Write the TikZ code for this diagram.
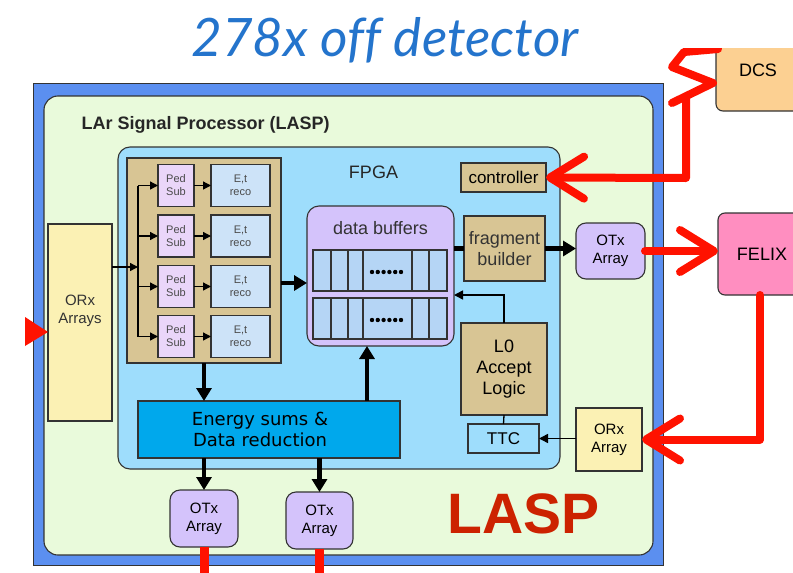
\documentclass[tikz,border=0pt]{standalone}
\usepackage{fontspec}
\setmainfont{Liberation Sans}
\newfontfamily\energyfont{DejaVu Sans}
\newfontfamily\headfont[Ligatures=NoCommon]{Lato}
\usetikzlibrary{arrows.meta}

\definecolor{frameblue}{HTML}{5B8FF0}
\definecolor{boardgreen}{HTML}{E9FADB}
\definecolor{fpgablue}{HTML}{9EDDFC}
\definecolor{tanfill}{HTML}{D8C594}
\definecolor{pedlilac}{HTML}{EAD6F9}
\definecolor{recoblue}{HTML}{CDE3F8}
\definecolor{lilac}{HTML}{D4C3FB}
\definecolor{cellblue}{HTML}{B5D5F5}
\definecolor{rxyellow}{HTML}{FBF1B4}
\definecolor{sumblue}{HTML}{00A8EC}
\definecolor{felixpink}{HTML}{FF8EC0}
\definecolor{dcsorange}{HTML}{FCD092}
\definecolor{linkred}{HTML}{FF1200}
\definecolor{laspred}{HTML}{CC2200}
\definecolor{titleblue}{HTML}{2474CC}
\definecolor{edge}{HTML}{333333}
\definecolor{smalltext}{HTML}{4A4A4A}

\begin{document}
\begin{tikzpicture}[x=1pt,y=-1pt,
  box/.style={draw=edge,line width=1.1pt,inner sep=0pt,outer sep=0pt,align=center},
  tanbox/.style={box,fill=tanfill},
  softbox/.style={rounded corners=10pt},
  f11/.style={font=\fontsize{11}{13}\selectfont},
  f15/.style={font=\fontsize{15}{18}\selectfont},
  f17/.style={font=\fontsize{17}{20}\selectfont},
  f18/.style={font=\fontsize{18}{21}\selectfont},
  redlink/.style={draw=linkred,line width=8pt,line cap=round,line join=round},
  chevron/.style={-{Straight Barb[length=34pt,width=42pt,round]}},
  bigarrow/.style={draw=black,line width=4.5pt,-{Triangle[length=13pt,width=15pt]}},
  smallarrow/.style={draw=black,line width=1.5pt,-{Triangle[length=9pt,width=9pt]}},
]
\useasboundingbox (0,0) rectangle (793,573);

% heading
\node[font=\headfont\itshape\fontsize{53}{56}\selectfont,text=titleblue,anchor=base]
  (heading) at (385,56) {278x off detector};

% board outline
\node[box,fill=frameblue,line width=1pt,minimum width=630pt,minimum height=482pt] (frame) at (348,324) {};
\node[box,softbox,rounded corners=14pt,fill=boardgreen,minimum width=609pt,minimum height=459pt] (board) at (348.5,325.5) {};
\node[font=\bfseries\fontsize{18}{21}\selectfont,anchor=base west,text=black!85] (boardname) at (78,129) {LAr Signal Processor (LASP)};

% FPGA
\node[box,rounded corners=12pt,fill=fpgablue,minimum width=442pt,minimum height=322pt] (fpga) at (339,308) {};
\node[f18,anchor=base,text=black!85] (fpganame) at (373.5,178) {FPGA};

% input optics
\node[box,fill=rxyellow,f15,text=edge,minimum width=64pt,minimum height=197pt] (orxL) at (80,322.5) {ORx\\Arrays\\[8pt]};

% channel processing
\node[tanbox,minimum width=154pt,minimum height=205pt] (chan) at (204,260.5) {};
\foreach \i/\yy in {1/185.5,2/236,3/286.5,4/336.5}{
  \node[box,fill=pedlilac,f11,text=smalltext,minimum width=36pt,minimum height=42pt] (ped\i) at (176,\yy) {Ped\\Sub};
  \node[box,fill=recoblue,f11,text=smalltext,minimum width=59pt,minimum height=42pt] (reco\i) at (240.5,\yy) {E,t\\reco};
  \draw[smallarrow,line width=1.3pt,-{Triangle[length=8pt,width=8pt]}] (ped\i) -- (reco\i);
}
\coordinate (fan) at (138,0);
\coordinate (inY) at (0,267);
\draw[line width=1.4pt] (fan |- ped1) -- (fan |- ped4);
\foreach \i in {1,...,4}
  \draw[smallarrow,line width=1.3pt,-{Triangle[length=8pt,width=8pt]}] (fan |- ped\i) -- (ped\i.west);
\draw[smallarrow,line width=1.3pt,-{Triangle[length=8pt,width=8pt]}] (orxL.east |- inY) -- (fan |- inY);

% data buffers
\node[box,rounded corners=12pt,fill=lilac,minimum width=147pt,minimum height=140pt] (dbuf) at (380.5,276) {};
\node[f18,text=edge] (dbuflabel) at (380.5,228) {data buffers};
\node[box,fill=cellblue,minimum width=134pt,minimum height=41pt] (row1) at (380,270.5) {};
\node[box,fill=cellblue,minimum width=134pt,minimum height=41pt] (row2) at (380,318.5) {};
\foreach \xx in {331,348,363,412,429}{
  \draw[draw=edge,line width=1.1pt] (\xx,0 |- row1.north) -- (\xx,0 |- row1.south);
  \draw[draw=edge,line width=1.1pt] (\xx,0 |- row2.north) -- (\xx,0 |- row2.south);
}
\foreach \k in {0,...,5}{
  \fill (372+5.8*\k,272) circle (2.2pt);
  \fill (372+5.8*\k,320) circle (2.2pt);
}

% right column of the FPGA
\node[tanbox,f17,minimum width=85pt,minimum height=29pt] (ctrl) at (503.5,177.5) {controller};
\node[tanbox,f18,text=black!80,minimum width=81pt,minimum height=65pt] (frag) at (504.5,248.5) {fragment\\builder};
\node[tanbox,f18,minimum width=86pt,minimum height=92pt] (lzero) at (504,369) {L0\\Accept\\Logic};
\node[box,fill=fpgablue,f17,minimum width=71pt,minimum height=29pt] (ttc) at (503.5,438.5) {TTC};

% energy sums
\node[box,fill=sumblue,minimum width=262pt,minimum height=57pt] (energy) at (269,429.5) {};
\node[font=\energyfont\fontsize{18}{21}\selectfont,align=center] (energytext) at ([xshift=-9pt]energy.center) {Energy sums \&\\Data reduction};

% optical transceivers on the board
\node[box,softbox,fill=lilac,f15,minimum width=69pt,minimum height=56pt] (otxR) at (610.5,251) {OTx\\Array};
\node[box,fill=rxyellow,f15,minimum width=66pt,minimum height=63pt] (orxR) at (609,439.5) {ORx\\Array};
\node[box,softbox,fill=lilac,f15,minimum width=68pt,minimum height=57pt] (otxB1) at (204,518.5) {OTx\\Array};
\node[box,softbox,fill=lilac,f15,minimum width=67pt,minimum height=57pt] (otxB2) at (319.5,520.5) {OTx\\Array};

% off-board systems
\node[box,rounded corners=7pt,fill=felixpink,f18,minimum width=88pt,minimum height=82pt] (felix) at (762,254) {FELIX};
\begin{scope}
  \clip (640,48) rectangle (793,200);
  \node[box,rounded corners=7pt,fill=dcsorange,f18,minimum width=84pt,minimum height=81pt] (dcs) at (758,70.5) {DCS};
  \coordinate (dcsIn) at (713,83);
  \draw[redlink] (672,103) -- (dcsIn) -- (672,67) -- (684,52) -- (718,49);
\end{scope}

% data flow inside the FPGA
\coordinate (flowY) at (0,283);
\coordinate (upX) at (367,0);
\coordinate (retY) at (0,295);
\draw[bigarrow] (chan.east |- flowY) -- (dbuf.west |- flowY);
\draw[bigarrow] (chan.south) -- (energy.north -| chan.south);
\draw[bigarrow] (energy.north -| upX) -- (dbuf.south -| upX);
\draw[bigarrow] (energy.south -| otxB1.north) -- (otxB1.north);
\draw[bigarrow] (energy.south -| otxB2.north) -- (otxB2.north);
\draw[black,line width=4.5pt] (dbuf.east |- frag.west) -- (frag.west);
\draw[bigarrow] (frag.east) -- (otxR.west |- frag.east);
\draw[smallarrow] (lzero.north) -- (lzero.north |- retY) -- (dbuf.east |- retY);
\draw[black,line width=1.3pt] (lzero.south) -- (ttc.north);
\draw[smallarrow] (orxR.west |- ttc.east) -- (ttc.east);

% optical links
\coordinate (dcsRise) at (686,97);
\coordinate (dcsKnee) at (686,178);
\coordinate (felixDrop) at (760,0);
\draw[redlink,chevron] (dcsRise) -- (dcsKnee) -- (ctrl.east);
\draw[redlink,chevron] (otxR.east) -- (felix.west |- otxR.east);
\draw[redlink,chevron] (felixDrop |- felix.south) -- (felixDrop |- orxR.east) -- (orxR.east);
\draw[redlink,line cap=butt,line width=9pt] (otxB1.south) -- ++(0,40);
\draw[redlink,line cap=butt,line width=9pt] (otxB2.south) -- ++(0,40);
\fill[linkred] (25,317) -- (orxL.west |- 0,332) -- (25,346) -- cycle;

% board tag
\node[font=\bfseries\fontsize{57}{60}\selectfont,text=laspred,anchor=base] (lasptag) at (524,533) {LASP};
\end{tikzpicture}
\end{document}
